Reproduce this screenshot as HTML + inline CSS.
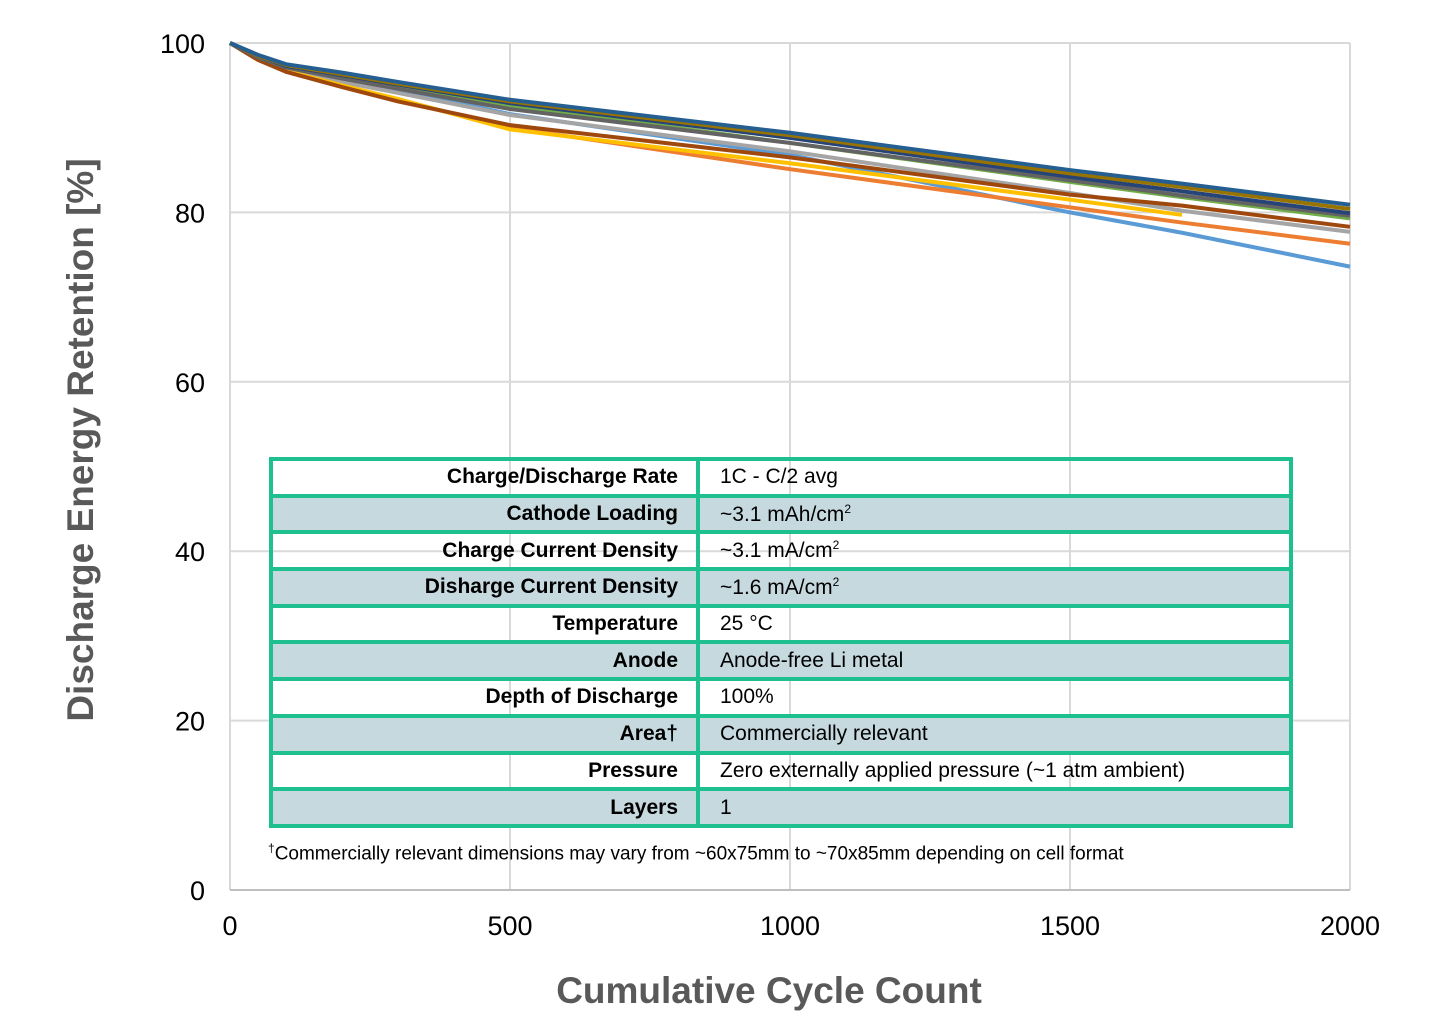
<!DOCTYPE html>
<html><head><meta charset="utf-8"><style>
body{margin:0;width:1440px;height:1024px;background:#fff;font-family:"Liberation Sans",Arial,sans-serif;overflow:hidden;position:relative}
svg{position:absolute;left:0;top:0}
#tbl{position:absolute;left:269px;top:457px;width:1024px;border-collapse:collapse;font-size:21px;color:#000}
#tbl tr{height:36.7px}
#tbl td{border:4px solid #1fc08f;height:36.7px;padding:0 18px 0 20px;box-sizing:border-box}
#tbl td.k{text-align:right;font-weight:bold;width:427px}
#tbl tr.s td{background:#c5d9df}
sup{font-size:12px}
#note{position:absolute;left:268px;top:841px;font-size:19px;color:#000}
</style></head><body>
<svg id="chart" width="1440" height="1024"></svg>
<table id="tbl">
<tr><td class="k">Charge/Discharge Rate</td><td>1C - C/2 avg</td></tr>
<tr class="s"><td class="k">Cathode Loading</td><td>~3.1 mAh/cm<sup>2</sup></td></tr>
<tr><td class="k">Charge Current Density</td><td>~3.1 mA/cm<sup>2</sup></td></tr>
<tr class="s"><td class="k">Disharge Current Density</td><td>~1.6 mA/cm<sup>2</sup></td></tr>
<tr><td class="k">Temperature</td><td>25 °C</td></tr>
<tr class="s"><td class="k">Anode</td><td>Anode-free Li metal</td></tr>
<tr><td class="k">Depth of Discharge</td><td>100%</td></tr>
<tr class="s"><td class="k">Area†</td><td>Commercially relevant</td></tr>
<tr><td class="k">Pressure</td><td>Zero externally applied pressure (~1 atm ambient)</td></tr>
<tr class="s"><td class="k">Layers</td><td>1</td></tr>
</table>
<div id="note"><sup>†</sup>Commercially relevant dimensions may vary from ~60x75mm to ~70x85mm depending on cell format</div>
<script>
const cycles=[0,50,100,200,300,500,1000,1500,1700,2000];
const xTicks=[0,500,1000,1500,2000];
const yTicks=[0,20,40,60,80,100];
const sLightBlue=[100,98.4,97.1,95.8,94.5,91.6,86.8,80.0,77.6,73.6];
const sOrange=[100,98.1,96.7,95.0,93.3,90.0,85.1,80.6,78.8,76.3];
const sSilver=[100,98.3,96.9,95.4,94.1,91.5,87.2,82.3,80.2,77.7];
const sYellow=[100,98.1,96.7,95.0,93.4,89.8,85.8,81.5,79.7,null];
const sBrown=[100,98.0,96.6,94.8,93.1,90.3,86.5,82.1,80.8,78.3];
const sGreen=[100,98.4,97.2,96.0,94.9,92.6,88.2,83.6,81.8,79.3];
const sGray=[100,98.3,97.1,95.8,94.6,92.2,88.2,83.8,82.0,79.6];
const sNavy=[100,98.5,97.3,96.2,95.1,92.9,88.8,84.2,82.5,79.9];
const sGold=[100,98.5,97.4,96.3,95.2,93.1,89.1,84.6,83.0,80.4];
const sDarkBlue=[100,98.6,97.5,96.5,95.4,93.3,89.4,85.0,83.4,80.9];
const series=[[sLightBlue,'#5b9bd5','series-light-blue'],[sOrange,'#ed7d31','series-orange'],[sSilver,'#a5a5a5','series-silver'],[sYellow,'#ffc000','series-yellow'],[sBrown,'#9e480e','series-brown'],[sGreen,'#70ad47','series-green'],[sGray,'#636363','series-gray'],[sNavy,'#264478','series-navy'],[sGold,'#997300','series-gold'],[sDarkBlue,'#255e91','series-dark-blue']];
const X=v=>230+v*(1120/2000), Y=v=>890-v*8.47;
const svg=document.getElementById('chart'),NS='http://www.w3.org/2000/svg';
function mk(t,a){const e=document.createElementNS(NS,t);for(const k in a)e.setAttribute(k,a[k]);svg.appendChild(e);return e;}
xTicks.forEach(t=>{const l=mk('line',{x1:X(t),x2:X(t),y1:43,y2:890,stroke:'#d9d9d9','stroke-width':2});


const tx=mk('text',{x:X(t),y:935,'font-size':27,'text-anchor':'middle',fill:'#000'});tx.textContent=t;

});
yTicks.forEach(t=>{const l=mk('line',{x1:230,x2:1350,y1:Y(t),y2:Y(t),stroke:'#d9d9d9','stroke-width':2});


const tx=mk('text',{x:205,y:Y(t)+10,'font-size':27,'text-anchor':'end',fill:'#000'});tx.textContent=t;

});
const ax=mk('line',{x1:230,x2:1350,y1:890,y2:890,stroke:'#bfbfbf','stroke-width':2});


series.forEach(([d,c,n])=>{let p='';d.forEach((v,i)=>{if(v!=null)p+=(p?'L':'M')+X(cycles[i])+','+Y(v);});
const e=mk('path',{d:p,fill:'none',stroke:c,'stroke-width':4,'stroke-linejoin':'round'});

});
const xt=mk('text',{x:769,y:1003,'font-size':37,'font-weight':'bold','text-anchor':'middle',fill:'#595959'});xt.textContent='Cumulative Cycle Count';


const yt=mk('text',{x:0,y:0,'font-size':37,'font-weight':'bold','text-anchor':'middle',fill:'#595959',transform:'translate(93,440) rotate(-90)'});yt.textContent='Discharge Energy Retention [%]';


</script>
</body></html>
